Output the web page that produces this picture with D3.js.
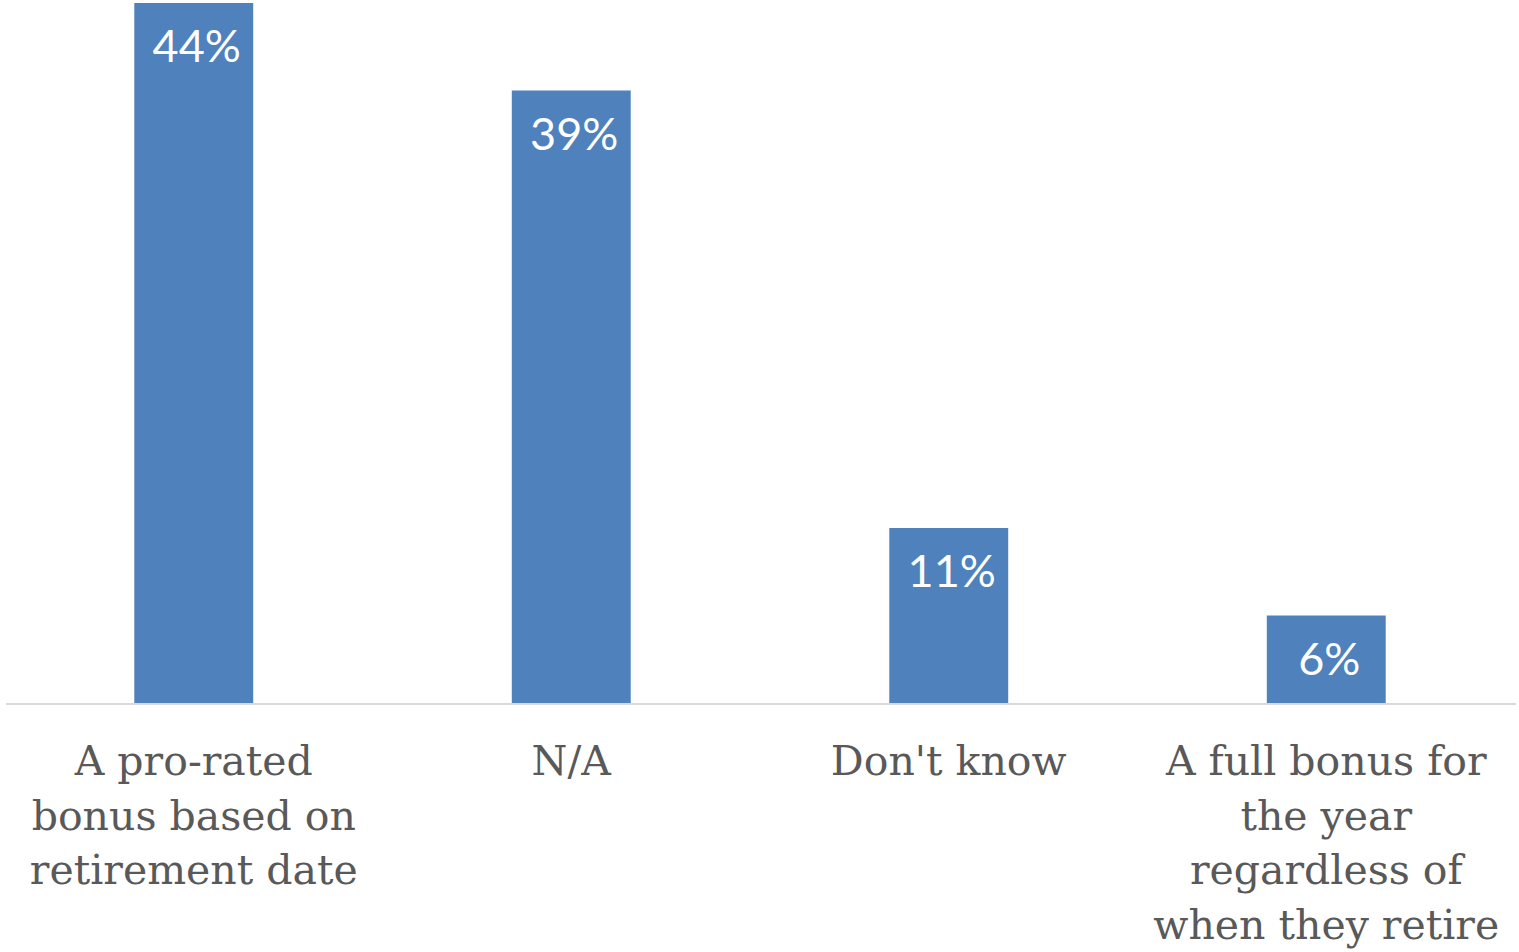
<!DOCTYPE html>
<html>
<head>
<meta charset="utf-8">
<script src="https://cdn.jsdelivr.net/npm/d3@7"></script>
<style>
  body { margin: 0; background: #fff; }
  svg { display: block; }
</style>
</head>
<body>
<svg></svg>
<script>
var categories = [
  ["A pro-rated", "bonus based on", "retirement date"],
  ["N/A"],
  ["Don't know"],
  ["A full bonus for", "the year", "regardless of", "when they retire"]
];
var values = [44, 38.5, 11, 5.5];

var drawChart = function()
{
  var screen = { width: 1519, height: 952 };
  var svg = d3.select('svg')
              .attr('width', screen.width)
              .attr('height', screen.height);

  var margins = { top: 3, bottom: 249, left: 5, right: 4 };
  var width = screen.width - margins.left - margins.right;
  var height = screen.height - margins.top - margins.bottom;

  var xscale = d3.scaleBand()
                 .domain(d3.range(values.length))
                 .range([0, width])
                 .paddingInner(0.685)
                 .paddingOuter(0.3425);
  var yscale = d3.scaleLinear()
                 .domain([0, 44])
                 .range([height, 0]);

  var plotLand = svg.append('g')
                    .attr('transform', 'translate(' + margins.left + ',' + margins.top + ')');

  plotLand.selectAll('rect')
    .data(values)
    .enter()
    .append('rect')
    .attr('x', function(d, i) { return xscale(i); })
    .attr('y', function(d) { return yscale(d); })
    .attr('width', xscale.bandwidth())
    .attr('height', function(d) { return height - yscale(d); })
    .attr('fill', '#4f81bd');

  // axis line
  plotLand.append('line')
    .attr('x1', 1).attr('x2', width + 1)
    .attr('y1', height + 1).attr('y2', height + 1)
    .attr('stroke', '#d9d9d9')
    .attr('stroke-width', 2);

  // value labels
  plotLand.selectAll('.val')
    .data(values)
    .enter()
    .append('text')
    .attr('class', 'val')
    .attr('x', function(d, i) { return xscale(i) + xscale.bandwidth() / 2 + 3; })
    .attr('y', function(d) { return yscale(d) + 59; })
    .attr('text-anchor', 'middle')
    .attr('fill', '#ffffff')
    .style('font-family', 'Lato, "Open Sans", sans-serif')
    .style('font-size', '45px')
    .text(function(d) { return Math.round(d) + '%'; });

  // category labels
  var cats = plotLand.selectAll('.cat')
    .data(categories)
    .enter()
    .append('text')
    .attr('class', 'cat')
    .attr('text-anchor', 'middle')
    .attr('fill', '#595959')
    .style('font-family', '"DejaVu Serif", Georgia, serif')
    .style('font-size', '41px')
    .attr('transform', function(d, i)
    {
      return 'translate(' + (xscale(i) + xscale.bandwidth() / 2) + ',' + (height + 72) + ')';
    });

  cats.selectAll('tspan')
    .data(function(d) { return d; })
    .enter()
    .append('tspan')
    .attr('x', 0)
    .attr('y', function(d, i) { return i * 54.5; })
    .text(function(d) { return d; });
}

drawChart();
</script>
</body>
</html>
